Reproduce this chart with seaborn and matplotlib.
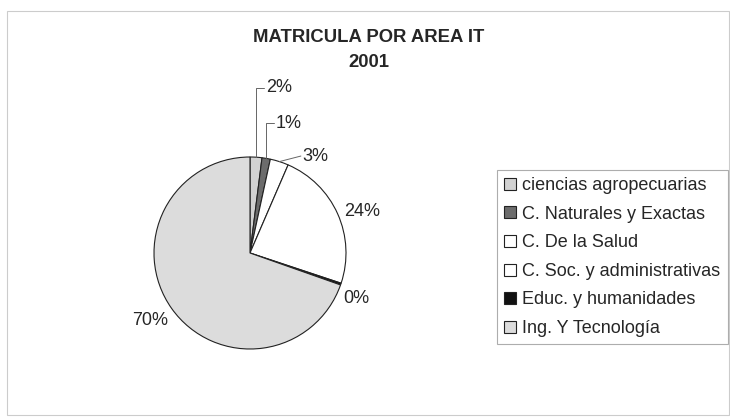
import numpy as np
import matplotlib
matplotlib.use("Agg")
import matplotlib.pyplot as plt
import seaborn as sns
from matplotlib.patches import Rectangle

# data (percent shares, clockwise from 12 o'clock)
areas = ["ciencias agropecuarias", "C. Naturales y Exactas", "C. De la Salud",
         "C. Soc. y administrativas", "Educ. y humanidades", "Ing. Y Tecnología"]
shares = [2.0, 1.4, 3.1, 23.6, 0.3, 69.6]
colors = ["#d2d2d2", "#6c6c6c", "#ffffff", "#ffffff", "#111111", "#dcdcdc"]

title_txt = "MATRICULA POR AREA IT\n2001"

sns.set_theme(style="white")
plt.rcParams["font.family"] = ["Liberation Sans", "DejaVu Sans"]

W, H = 730, 417
fig = plt.figure(figsize=(W / 100, H / 100), dpi=100)
fig.patch.set_facecolor("white")

# faint outer chart border
fig.patches.append(Rectangle((7 / W, 2 / H), 722 / W, 404 / H, transform=fig.transFigure,
                             fill=False, edgecolor="#cccccc", linewidth=0.8))

cx, cy, r = 250, 253, 96
ax = fig.add_axes([(cx - r) / W, (H - cy - r) / H, 2 * r / W, 2 * r / H])
wedges, _ = ax.pie(shares, colors=colors, startangle=90, counterclock=False,
                   wedgeprops=dict(edgecolor="#222222", linewidth=0.8))
ax.set_xlim(-1, 1)
ax.set_ylim(-1, 1)
ax.set_aspect("equal")
ax.axis("off")

total = sum(shares)
pct = [f"{v / total * 100:.0f}%" for v in shares]

# label text positions (axes data units) and leader style
label_pos = [(0.17, 1.72), (0.27, 1.35), (0.55, 1.01), (1.17, 0.43), (1.11, -0.47), (-1.04, -0.70)]
leader = ["elbow", "elbow", "straight", None, None, None]

for w, txt, (tx, ty), lead in zip(wedges, pct, label_pos, leader):
    mid = np.deg2rad((w.theta1 + w.theta2) / 2)
    rx, ry = np.cos(mid), np.sin(mid)
    if lead == "elbow":
        ax.plot([rx, rx, tx - 0.02], [ry, ty, ty], color="#666666", lw=0.7,
                clip_on=False)
        ax.text(tx, ty, txt, ha="left", va="center", fontsize=13, clip_on=False)
    elif lead == "straight":
        ax.plot([rx, tx - 0.02], [ry, ty], color="#666666", lw=0.7, clip_on=False)
        ax.text(tx, ty, txt, ha="left", va="center", fontsize=13, clip_on=False)
    else:
        ax.text(tx, ty, txt, ha="center", va="center", fontsize=13, clip_on=False)

fig.text(369 / W, 1 - 50 / H, title_txt, ha="center", va="center", fontsize=13.3,
         fontweight="bold", linespacing=1.6)

leg = fig.legend(wedges, areas, loc="upper left", bbox_to_anchor=(497 / W, 1 - 170 / H),
                 fontsize=13, frameon=True, fancybox=False, handlelength=0.65,
                 handleheight=0.65, handletextpad=0.35, labelspacing=0.64,
                 borderpad=0.4, borderaxespad=0)
leg.get_frame().set_edgecolor("#999999")
leg.get_frame().set_linewidth(0.8)

fig.savefig("out.png", dpi=100)
